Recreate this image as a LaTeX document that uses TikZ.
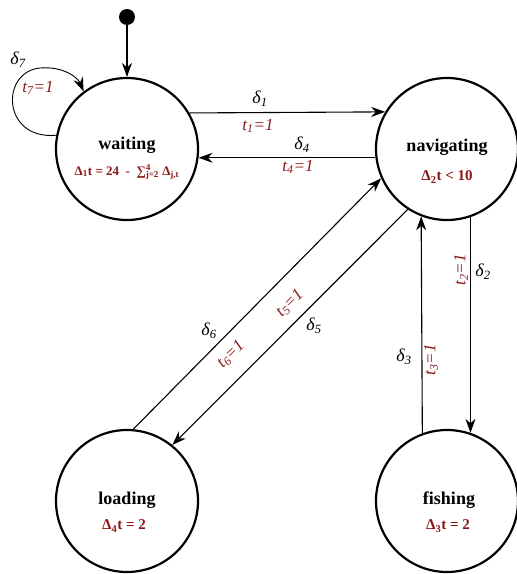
\documentclass[tikz,border=0pt]{standalone}
\usepackage{fontspec}
\setmainfont{Liberation Serif}
\usetikzlibrary{arrows.meta}
\definecolor{dred}{RGB}{140,22,22}
\begin{document}
\begin{tikzpicture}[x=1pt,y=-1pt,
 state/.style={circle,draw,line width=2.2pt,minimum size=142pt,inner sep=0pt},
 title/.style={font=\fontsize{18}{20}\selectfont\bfseries},
 cond/.style={font=\fontsize{15}{17}\selectfont\bfseries,text=dred},
 lbl/.style={font=\fontsize{18}{20}\selectfont\itshape,inner sep=1pt},
 tlbl/.style={font=\fontsize{17}{19}\selectfont\itshape,text=dred,inner sep=1pt},
 conn/.style={line width=1.1pt,-{Stealth[length=14pt,width=10pt,inset=4.5pt]}}]
\useasboundingbox (0,0) rectangle (517,574);
% states
\node[state] (w) at (127,149) {};
\node[state] (n) at (447,149) {};
\node[state] (l) at (127,501) {};
\node[state] (f) at (447,501) {};
\node[circle,fill,minimum size=16pt,inner sep=0pt] (s) at (127,17) {};
% texts
\node[title] (wt) at (127,145) {waiting};
\node[cond,font=\fontsize{13}{15}\selectfont\bfseries] (wc) at (127,172) {Δ\textsubscript{1}t = 24 \ - \ ∑\rlap{\textsuperscript{4}}\textsubscript{j=2} Δ\textsubscript{j,t}};
\node[title] (nt) at (447,147) {navigating};
\node[cond] (nc) at (447,177) {Δ\textsubscript{2}t < 10};
\node[title] (lt) at (127,500) {loading};
\node[cond] (lc) at (124,526) {Δ\textsubscript{4}t = 2};
\node[title] (ft) at (449,500) {fishing};
\node[cond] (fc) at (448,526) {Δ\textsubscript{3}t = 2};
% connectors
\draw[conn] (s) -- (w.90);
\draw[conn] (w.30.5) -- (n.149.5);
\draw[conn] (n.187.3) -- (w.-7.3);
\draw[conn] (n.-71.1) -- (f.71.1);
\draw[conn] (f.110.6) -- (n.249.4);
\draw[conn] (l.85) -- (n.204);
\draw[conn] (n.237) -- (l.51.6);
\draw[line width=0.9pt,-{Stealth[length=14pt,width=10pt,inset=4.5pt]}] (w.169) .. controls (2,140) and (0,72) .. (40,68) .. controls (64,66) and (78,78) .. (w.127);
% labels
\node[lbl] (d1) at (260,99) {δ\textsubscript{1}};
\node[tlbl] (t1) at (258,126) {t\textsubscript{1}=1};
\node[lbl] (d4) at (302,145) {δ\textsubscript{4}};
\node[tlbl] (t4) at (298,167) {t\textsubscript{4}=1};
\node[tlbl,rotate=90] (t2) at (461,270) {t\textsubscript{2}=1};
\node[lbl] (d2) at (483,272) {δ\textsubscript{2}};
\node[lbl] (d3) at (404,357) {δ\textsubscript{3}};
\node[tlbl,rotate=90] (t3) at (431,360) {t\textsubscript{3}=1};
\node[lbl] (d6) at (209,331) {δ\textsubscript{6}};
\node[tlbl,rotate=45] (t6) at (231,354) {t\textsubscript{6}=1};
\node[tlbl,rotate=45] (t5) at (290,303) {t\textsubscript{5}=1};
\node[lbl] (d5) at (314,326) {δ\textsubscript{5}};
\node[lbl] (d7) at (18,60) {δ\textsubscript{7}};
\node[tlbl] (t7) at (38,88) {t\textsubscript{7}=1};
\end{tikzpicture}
\end{document}
